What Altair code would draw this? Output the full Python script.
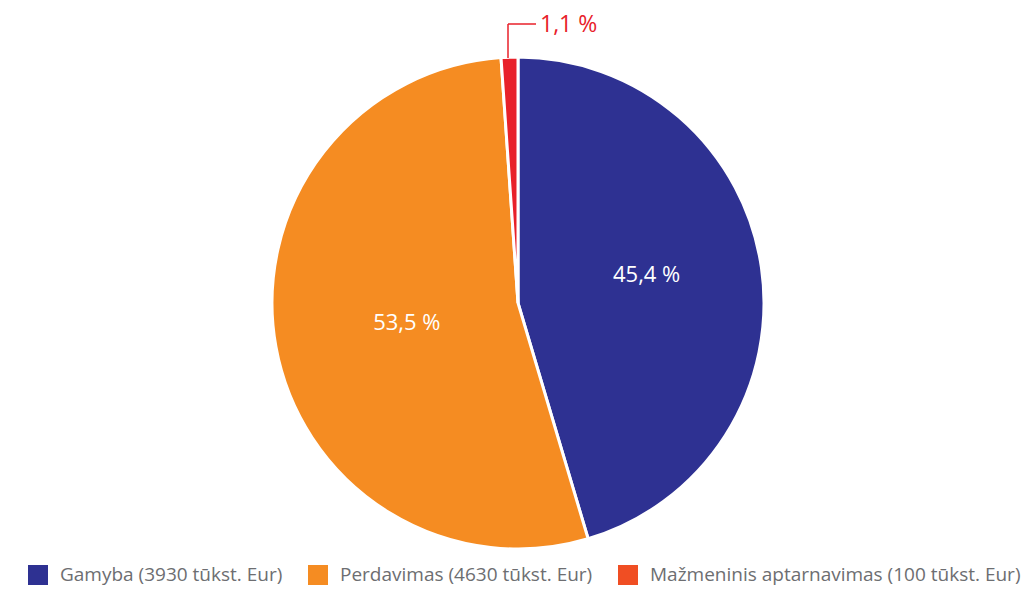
import altair as alt
import pandas as pd

categories = ["Gamyba (3930 tūkst. Eur)", "Perdavimas (4630 tūkst. Eur)", "Mažmeninis aptarnavimas (100 tūkst. Eur)"]
shares = [45.4, 53.5, 1.1]
labels = ["45,4 %", "53,5 %", "1,1 %"]
order = [0, 1, 2]
slice_colors = ["#2E3192", "#F58C22", "#E8212A"]
legend_colors = ["#2E3192", "#F58C22", "#F04E23"]

df = pd.DataFrame({"cat": categories, "share": shares, "label": labels, "ord": order})
small = df[df["ord"] == 2]

FONT = "Open Sans"
CX, CY, R = 510, 295, 246

theta = alt.Theta("share:Q", stack=True)
ordr = alt.Order("ord:Q")

pie = alt.Chart(df).mark_arc(outerRadius=R, stroke="white", strokeWidth=3).encode(
    theta=theta,
    order=ordr,
    color=alt.Color("cat:N", sort=categories,
                    scale=alt.Scale(domain=categories, range=slice_colors), legend=None),
    x=alt.value(CX), y=alt.value(CY),
)


def inside_label(idx, rad, dy):
    return alt.Chart(df).mark_text(radius=rad, dy=dy, fontSize=22, font=FONT,
                                   color="white").encode(
        theta=theta,
        order=ordr,
        text="label:N",
        opacity=alt.condition(f"datum.ord == {idx}", alt.value(1), alt.value(0)),
        x=alt.value(CX), y=alt.value(CY),
    )


txt_a = inside_label(0, 130, -9)
txt_b = inside_label(1, 113, 0)

legend_layer = alt.Chart(df).mark_point(opacity=0, filled=True, size=0).encode(
    fill=alt.Fill("cat:N", sort=categories,
                  scale=alt.Scale(domain=categories, range=legend_colors),
                  legend=alt.Legend(title=None, orient="none", direction="horizontal",
                                    legendX=20, legendY=557, symbolType="square",
                                    symbolSize=400, symbolOpacity=1, symbolStrokeWidth=0,
                                    labelFontSize=19, labelFont=FONT, labelColor="#6D6E71",
                                    labelOffset=12, labelLimit=0, columnPadding=25,
                                    padding=0)),
    x=alt.value(0), y=alt.value(0),
)

vline = alt.Chart(small).mark_rule(color="#E8212A", strokeWidth=1.5).encode(
    x=alt.value(500), y=alt.value(50), y2=alt.value(16))
hline = alt.Chart(small).mark_rule(color="#E8212A", strokeWidth=1.5).encode(
    x=alt.value(500), x2=alt.value(528), y=alt.value(16))
small_txt = alt.Chart(small).mark_text(align="left", baseline="alphabetic", fontSize=23,
                                       font=FONT, color="#E8212A").encode(
    text="label:N", x=alt.value(532), y=alt.value(24))

chart = alt.layer(pie, txt_a, txt_b, legend_layer, vline, hline, small_txt).properties(
    width=1019, height=582, autosize=alt.AutoSizeParams(type="none"), padding=0,
).resolve_scale(color="independent", fill="independent").configure_view(stroke=None)

chart.save("out.html", embed_options={"renderer": "svg", "actions": False})
